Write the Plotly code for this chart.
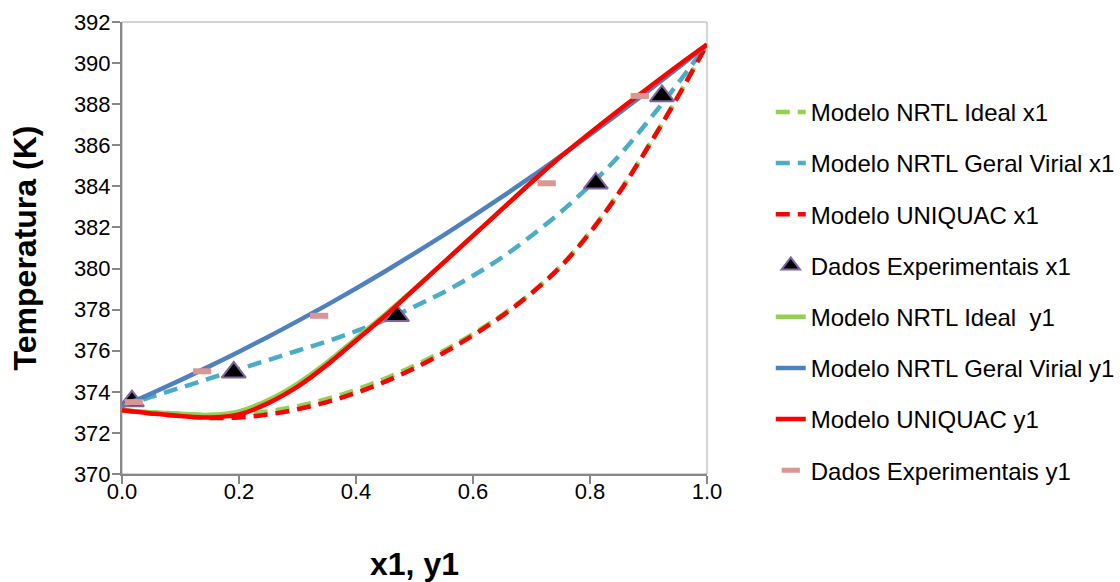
import plotly.graph_objects as go

# ---- data ----
x_grid = [0.0, 0.05, 0.1, 0.15, 0.2, 0.25, 0.3, 0.35, 0.4, 0.45, 0.5, 0.55,
          0.6, 0.65, 0.7, 0.75, 0.8, 0.85, 0.9, 0.95, 1.0]

nrtl_ideal_x1 = [373.1, 373.0, 372.93, 372.86, 372.9, 373.05, 373.3, 373.65, 374.1, 374.65,
                 375.28, 376.0, 376.82, 377.75, 378.82, 380.12, 381.78, 383.72, 385.97, 388.37, 390.9]
nrtl_virial_x1 = [373.3, 373.75, 374.2, 374.65, 375.1, 375.55, 376.0, 376.45, 376.95, 377.5,
                  378.15, 378.85, 379.65, 380.55, 381.6, 382.75, 384.05, 385.5, 387.2, 389.0, 390.9]
uniquac_x1 = [373.1, 372.95, 372.82, 372.73, 372.75, 372.9, 373.15, 373.5, 373.95, 374.5,
              375.15, 375.9, 376.75, 377.7, 378.8, 380.1, 381.75, 383.7, 385.95, 388.35, 390.9]

nrtl_ideal_y1 = [373.1, 373.0, 372.93, 372.88, 373.05, 373.6, 374.4, 375.42, 376.6, 377.78,
                 379.02, 380.3, 381.6, 382.9, 384.2, 385.45, 386.6, 387.72, 388.8, 389.87, 390.9]
nrtl_virial_y1 = [373.3, 373.92, 374.57, 375.25, 375.95, 376.68, 377.44, 378.22, 379.03, 379.87,
                  380.74, 381.63, 382.55, 383.5, 384.47, 385.48, 386.51, 387.57, 388.65, 389.76, 390.9]
uniquac_y1 = [373.1, 372.95, 372.82, 372.75, 372.9, 373.45, 374.25, 375.3, 376.5, 377.7,
              379.0, 380.3, 381.6, 382.9, 384.2, 385.45, 386.6, 387.72, 388.8, 389.87, 390.9]

exp_x1 = [0.017, 0.191, 0.470, 0.810, 0.923]
exp_T_x = [373.55, 374.95, 377.7, 384.15, 388.4]
exp_y1 = [0.020, 0.137, 0.337, 0.726, 0.885]
exp_T_y = [373.5, 375.0, 377.7, 384.15, 388.4]

x_ticks = [0.0, 0.2, 0.4, 0.6, 0.8, 1.0]
y_ticks = list(range(370, 393, 2))

# ---- figure ----
fig = go.Figure()
DASH = "14px,8px"
LW = 4.5
FONT = "Liberation Sans, Arial"

def line_trace(x, y, name, color, dash=None, lw=LW):
    return go.Scatter(x=x, y=y, name=name, mode="lines", legendgroup=name,
                      line=dict(color=color, width=lw, dash=dash or "solid",
                                shape="spline", smoothing=1.0))

fig.add_trace(line_trace(x_grid, nrtl_ideal_x1, "Modelo NRTL Ideal x1", "#92D050", DASH))
fig.add_trace(line_trace(x_grid, nrtl_virial_x1, "Modelo NRTL Geral Virial x1", "#4BACC6", DASH))
fig.add_trace(line_trace(x_grid, uniquac_x1, "Modelo UNIQUAC x1", "#FF0000", DASH))
fig.add_trace(go.Scatter(x=exp_x1, y=exp_T_x, name="Dados Experimentais x1", mode="markers",
                         legendgroup="dx1",
                         marker=dict(symbol="triangle-up", size=21, color="black",
                                     line=dict(color="#8064A2", width=2))))
fig.add_trace(line_trace(x_grid, nrtl_ideal_y1, "Modelo NRTL Ideal  y1", "#92D050"))
fig.add_trace(line_trace(x_grid, nrtl_virial_y1, "Modelo NRTL Geral Virial y1", "#4F81BD"))
fig.add_trace(line_trace(x_grid, uniquac_y1, "Modelo UNIQUAC y1", "#FF0000"))
fig.add_trace(go.Scatter(x=exp_y1, y=exp_T_y, name="Dados Experimentais y1", mode="markers",
                         legendgroup="dy1",
                         marker=dict(symbol="line-ew", size=13, color="#D99694",
                                     line=dict(color="#D99694", width=6))))

axis_common = dict(showgrid=False, zeroline=False, showline=True, linecolor="#888888",
                   linewidth=2, ticks="outside", ticklen=8, tickcolor="#888888", tickwidth=1.5,
                   automargin=False,
                   tickfont=dict(family=FONT, size=22, color="#000000"))

fig.update_layout(
    width=1120, height=582,
    margin=dict(l=122, r=413, t=22, b=108, autoexpand=False),
    paper_bgcolor="white", plot_bgcolor="white",
    xaxis=dict(range=[0, 1], tickvals=x_ticks, tickformat=".1f", ticklabelstandoff=-11,
               title=dict(text="<b>x1, y1</b>", font=dict(family=FONT, size=32, color="black"),
                          standoff=52),
               **axis_common),
    yaxis=dict(range=[370, 392], tickvals=y_ticks, ticklabelstandoff=-3,
               title=dict(text="<b>Temperatura (K)</b>", font=dict(family=FONT, size=32, color="black"),
                          standoff=28),
               **axis_common),
    legend=dict(x=1.109, xanchor="left", y=0.85, yanchor="top",
                traceorder="grouped", tracegroupgap=17,
                font=dict(family=FONT, size=24, color="black"),
                bgcolor="rgba(0,0,0,0)"),
    shapes=[dict(type="rect", xref="paper", yref="paper", x0=0, x1=1, y0=0, y1=1,
                 line=dict(color="#AAAAAA", width=1), layer="below")],
)

fig.write_html("out.html")
